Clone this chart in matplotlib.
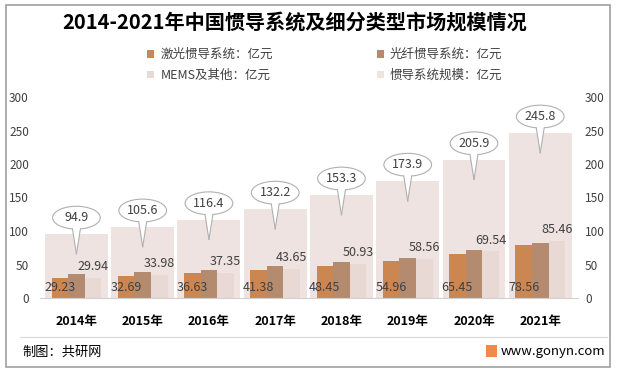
import matplotlib
matplotlib.use('Agg')
import matplotlib.pyplot as plt
import numpy as np
from matplotlib.patches import Ellipse, Polygon, Rectangle
from matplotlib.lines import Line2D

plt.rcParams['font.family'] = ['Noto Sans CJK SC', 'DejaVu Sans']

years = ['2014年', '2015年', '2016年', '2017年', '2018年', '2019年', '2020年', '2021年']
laser = [29.23, 32.69, 36.63, 41.38, 48.45, 54.96, 65.45, 78.56]
fiber = [35.73, 38.93, 42.42, 47.17, 53.92, 60.38, 70.91, 81.78]
mems = [29.94, 33.98, 37.35, 43.65, 50.93, 58.56, 69.54, 85.46]
total = [94.9, 105.6, 116.4, 132.2, 153.3, 173.9, 205.9, 245.8]

c_laser = '#cb8651'
c_fiber = '#b48b6f'
c_mems = '#e8d9d5'
c_total = '#eee3e0'
txt = '#404040'

W, H = 630, 376
fig = plt.figure(figsize=(6.3, 3.76), dpi=100)
ax = fig.add_axes([40 / W, 1 - 298 / H, 538 / W, 201 / H])
x = np.arange(len(years))

b_total = ax.bar(x, total, width=0.95, color=c_total, zorder=1)
b_laser = ax.bar(x - 0.25, laser, width=0.25, color=c_laser, zorder=2)
b_fiber = ax.bar(x, fiber, width=0.25, color=c_fiber, zorder=2)
b_mems = ax.bar(x + 0.25, mems, width=0.25, color=c_mems, zorder=2)

ax.set_xlim(-0.55, 7.57)
ax.set_ylim(0, 300)
ax.set_yticks(range(0, 301, 50))
ax.set_xticks(x)
ax.set_xticklabels(years, fontsize=9, fontweight='bold', color='#000000')
ax.tick_params(axis='x', length=0, pad=12)
ax.tick_params(axis='y', length=0, labelsize=8.5, labelcolor=txt, pad=8)
for s in ['top', 'left', 'right']:
    ax.spines[s].set_visible(False)
ax.spines['bottom'].set_color('#d0d0d0')
ax.spines['bottom'].set_zorder(3)

ax2 = ax.twinx()
ax2.set_ylim(0, 300)
ax2.set_yticks(range(0, 301, 50))
ax2.tick_params(axis='y', length=0, labelsize=8.5, labelcolor=txt, pad=5)
for s in ['top', 'left', 'right', 'bottom']:
    ax2.spines[s].set_visible(False)

# value labels
for i in x:
    ax.text(i - 0.25, 16, f'{laser[i]:.2f}', ha='center', va='center',
            fontsize=9, color=txt, zorder=5)
    ax.text(i + 0.25, mems[i] + 17, f'{mems[i]:.2f}', ha='center', va='center',
            fontsize=9, color=txt, zorder=5)

# speech bubbles for totals
bw, bh = 0.72, 34
for i in x:
    cx, cy = i, total[i] + 25
    tip = total[i] - 29
    e = Ellipse((cx, cy), bw, bh, facecolor='white', edgecolor='#b0b0b0',
                linewidth=0.8, zorder=6)
    ax.add_patch(e)
    hw = 0.06
    ey = cy - bh / 2 * np.sqrt(1 - (hw / (bw / 2)) ** 2)
    poly = Polygon([(cx - hw, ey + 2), (cx + hw, ey + 2), (cx, tip)], closed=True,
                   facecolor='white', edgecolor='none', zorder=7)
    ax.add_patch(poly)
    ax.add_line(Line2D([cx - hw, cx], [ey, tip], color='#b0b0b0', lw=0.8, zorder=8))
    ax.add_line(Line2D([cx + hw, cx], [ey, tip], color='#b0b0b0', lw=0.8, zorder=8))
    ax.text(cx, cy, f'{total[i]:.1f}', ha='center', va='center', fontsize=9,
            color=txt, zorder=9)

# title
fig.text(295 / W, 1 - 22 / H, '2014-2021年中国惯导系统及细分类型市场规模情况',
         ha='center', va='center', fontsize=14.5, fontweight='bold', color='#000000')

# legend
handles = [b_laser, b_mems, b_fiber, b_total]
labels = ['激光惯导系统：亿元', 'MEMS及其他：亿元', '光纤惯导系统：亿元', '惯导系统规模：亿元']
leg = fig.legend(handles, labels, ncol=2, loc='upper left',
                 bbox_to_anchor=(136 / W, 1 - 37 / H), frameon=False,
                 fontsize=9, handlelength=0.55, handleheight=0.55,
                 handletextpad=0.5, columnspacing=8.3, labelspacing=0.6,
                 labelcolor=txt)

# footer
fig.add_artist(Line2D([20 / W, 607 / W], [1 - 337 / H, 1 - 337 / H],
                      color='#d9d9d9', lw=0.8))
fig.text(22 / W, 1 - 352 / H, '制图：共研网', ha='left', va='center',
         fontsize=9.5, color='#000000')
fig.add_artist(Rectangle((486 / W, 1 - 357 / H), 11 / W, 12 / H,
                         facecolor='#f08a4b', edgecolor='none',
                         transform=fig.transFigure))
fig.text(501 / W, 1 - 351 / H, 'www.gonyn.com', ha='left', va='center',
         fontsize=9.5, color='#000000')

# border
fig.add_artist(Rectangle((6 / W, 1 - 367 / H), 604 / W, 362 / H,
                         fill=False, edgecolor='#a0a0a0', lw=1.2,
                         transform=fig.transFigure))

fig.savefig('out.png', dpi=100, facecolor='white')
